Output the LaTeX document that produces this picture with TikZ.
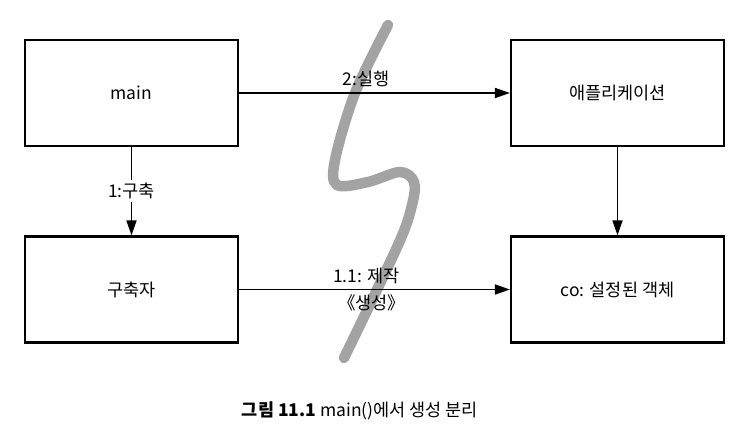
\documentclass[tikz,border=0pt]{standalone}
\usepackage{fontspec}
\setmainfont{Noto Sans CJK KR}
\usetikzlibrary{arrows.meta,backgrounds,positioning}

\begin{document}
\begin{tikzpicture}[
    x=1pt, y=-1pt,
    font=\fontsize{17.5}{21}\selectfont,
    box/.style={rectangle, draw, line width=2.2pt, minimum width=213pt, minimum height=106pt, align=center, inner sep=0pt},
    arrow/.style={-{Triangle[length=15pt,width=10pt]}, line width=1.7pt},
    lbl/.style={inner sep=1pt},
    squiggle/.style={line width=10.5pt, draw=black!36, line cap=round}
]
    \useasboundingbox (0,0) rectangle (755,442);
    \node[box] (main) at (131.5,93) {main};
    \node[box] (app) at (617.5,93) {애플리케이션};
    \node[box] (builder) at (131.5,289.5) {구축자};
    \node[box] (co) at (617.5,289.5) {co: 설정된 객체};
    \draw[arrow] (main) -- node[lbl, above=4pt, pos=0.47] {2:실행} (app);
    \draw[arrow] (main) -- node[lbl, fill=white, inner sep=3pt] {1:구축} (builder);
    \draw[arrow] (app) -- (co);
    \draw[arrow] (builder) -- node[lbl, above=4pt, pos=0.47] {1.1: 제작} node[lbl, below=3pt, pos=0.49] {《생성》} (co);
    % the cut between the two halves
    \begin{scope}[on background layer]
        \draw[squiggle] plot[smooth, tension=0.55] coordinates {(388,25) (355,93) (335,160) (337,185) (368,182) (400,172) (414,182) (412,205) (398,245) (344,358)};
    \end{scope}
    \node (caption) at (360,411) {\textbf{그림 11.1} main()에서 생성 분리};
\end{tikzpicture}
\end{document}
